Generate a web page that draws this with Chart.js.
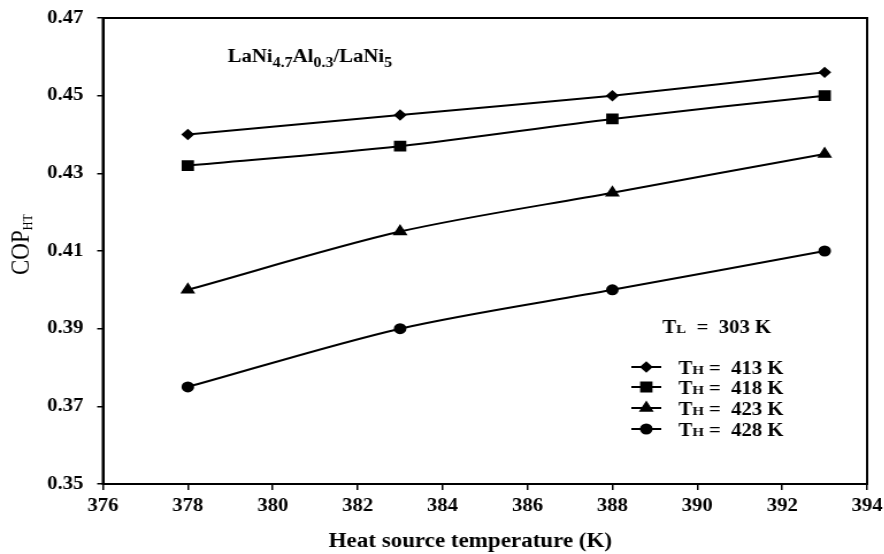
<!DOCTYPE html>
<html>
<head>
<meta charset="utf-8">
<script src="https://cdn.jsdelivr.net/npm/chart.js@4/dist/chart.umd.min.js"></script>
<style>
  html, body { margin: 0; padding: 0; background: #fff; overflow: hidden; width: 884px; height: 554px; }
  /* the original figure is stretched a little horizontally */
  #wrap { width: 769px; height: 554px; transform: scaleX(1.15); transform-origin: 0 0; }
</style>
</head>
<body>
<div id="wrap"><canvas id="cop"></canvas></div>
<script>
// heat source temperatures (K)
const tempsK = [378, 383, 388, 393];
// COP_HT for each heat sink temperature T_H
const cop413 = [0.440, 0.445, 0.450, 0.456];
const cop418 = [0.432, 0.437, 0.444, 0.450];
const cop423 = [0.400, 0.415, 0.425, 0.435];
const cop428 = [0.375, 0.390, 0.400, 0.410];
const seriesNames = ['413 K', '418 K', '423 K', '428 K'];
const markers = ['rectRot', 'rect', 'triangle', 'circle'];
const markerSizes = [4.3, 6.2, 5.5, 4.5];

const serif = '"Liberation Serif", "DejaVu Serif", serif';

const toPoints = (vals) => tempsK.map((t, i) => ({ x: t, y: vals[i] }));

const datasets = [cop413, cop418, cop423, cop428].map((vals, i) => ({
  label: 'TH = ' + seriesNames[i],
  data: toPoints(vals),
  borderColor: '#000',
  backgroundColor: '#000',
  borderWidth: 2,
  pointStyle: markers[i],
  pointRadius: markerSizes[i],
  pointHoverRadius: markerSizes[i],
  tension: 0.3
}));

// frame around the plot, axis titles, inner notes and the legend
const extras = {
  id: 'extras',
  afterDraw(chart) {
    const ctx = chart.ctx;
    const a = chart.chartArea;
    ctx.save();
    ctx.strokeStyle = '#000';
    ctx.lineWidth = 2;
    ctx.strokeRect(a.left, a.top, a.right - a.left, a.bottom - a.top);

    ctx.fillStyle = '#000';
    ctx.textBaseline = 'alphabetic';

    // x axis title
    ctx.textAlign = 'center';
    ctx.font = 'bold 20px ' + serif;
    ctx.fillText('Heat source temperature (K)', 409, 547);
    ctx.textAlign = 'left';

    // y axis title COP with subscript HT
    ctx.save();
    ctx.translate(25, 275);
    ctx.rotate(-Math.PI / 2);
    ctx.font = '23px ' + serif;
    ctx.fillText('COP', 0, 0);
    const wc = ctx.measureText('COP').width;
    ctx.font = '12px ' + serif;
    ctx.fillText('HT', wc, 3);
    ctx.restore();

    // LaNi4.7Al0.3/LaNi5 with subscripts
    const parts = [['LaNi', 0], ['4.7', 1], ['Al', 0], ['0.3', 1], ['/LaNi', 0], ['5', 1]];
    let x = 198, y = 62;
    parts.forEach(([txt, sub]) => {
      ctx.font = sub ? 'bold 14px ' + serif : 'bold 18px ' + serif;
      ctx.fillText(txt, x, sub ? y + 5 : y);
      x += ctx.measureText(txt).width;
    });

    // T with a small-cap index letter, then the rest
    const smallCap = (bx, by, idx, rest) => {
      ctx.font = 'bold 18px ' + serif;
      ctx.fillText('T', bx, by);
      let w = ctx.measureText('T').width;
      ctx.font = 'bold 13px ' + serif;
      ctx.fillText(idx, bx + w, by);
      w += ctx.measureText(idx).width;
      ctx.font = 'bold 18px ' + serif;
      ctx.fillText(rest, bx + w, by);
    };
    smallCap(576, 333, 'L', '  =  303 K');

    // legend rows: line with marker, then label
    const rows = [367, 387, 408, 429];
    datasets.forEach((ds, i) => {
      const ly = rows[i];
      ctx.strokeStyle = '#000';
      ctx.lineWidth = 2;
      ctx.beginPath();
      ctx.moveTo(549, ly);
      ctx.lineTo(575, ly);
      ctx.stroke();
      ctx.fillStyle = '#000';
      Chart.helpers.drawPoint(ctx, {
        pointStyle: ds.pointStyle, radius: ds.pointRadius, borderWidth: 1
      }, 562, ly);
      ctx.fillStyle = '#000';
      smallCap(590, ly + 7, 'H', ' =  ' + seriesNames[i]);
    });
    ctx.restore();
  }
};

new Chart(document.getElementById('cop'), {
  type: 'line',
  data: { datasets },
  plugins: [extras],
  options: {
    responsive: true,
    maintainAspectRatio: false,
    animation: false,
    layout: { padding: { top: 18, right: 15, left: 0, bottom: 0 } },
    plugins: { legend: { display: false }, tooltip: { enabled: false } },
    scales: {
      x: {
        type: 'linear',
        min: 376, max: 394,
        afterFit(scale) {
          scale.height = 70;
          scale.paddingLeft = 0;
          scale.paddingRight = 0;
        },
        ticks: {
          stepSize: 2, color: '#000', padding: 6, maxRotation: 0,
          font: { family: serif, size: 18, weight: 'bold' }
        },
        grid: { drawOnChartArea: false, color: '#000', tickLength: 6, lineWidth: 1.5 },
        border: { color: '#000', width: 2 },
        title: { display: false }
      },
      y: {
        min: 0.35, max: 0.47,
        afterFit(scale) {
          scale.width = 89.5;
          scale.paddingTop = 0;
          scale.paddingBottom = 0;
        },
        ticks: {
          stepSize: 0.02, color: '#000', padding: 12,
          callback: (v) => v.toFixed(2),
          font: { family: serif, size: 18, weight: 'bold' }
        },
        grid: { drawOnChartArea: false, color: '#000', tickLength: 5, lineWidth: 1.5 },
        border: { color: '#000', width: 2 },
        title: { display: false }
      }
    }
  }
});
</script>
</body>
</html>
